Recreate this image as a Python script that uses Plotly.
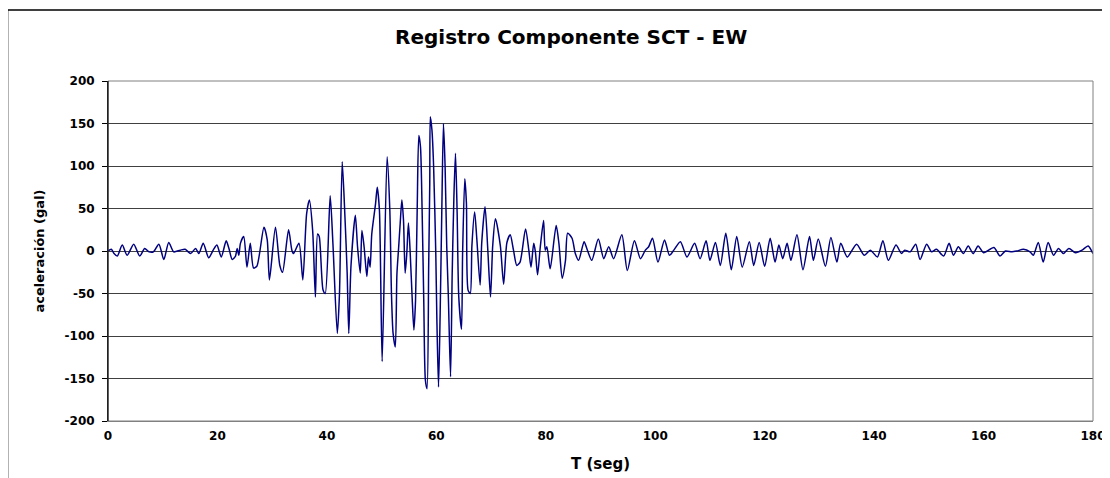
import plotly.graph_objects as go

t_seg = [0.0, 0.6, 1.1, 1.7, 2.6, 3.5, 4.7, 5.8, 6.7, 7.5, 8.3, 9.3, 10.2, 11.1, 12.0, 13.2, 14.1, 15.1, 16.0, 16.6,
         17.4, 18.4, 19.3, 19.9, 20.7, 21.6, 22.1, 22.7, 23.3, 23.6, 23.9, 24.2, 24.8, 25.4, 26.0, 26.6, 27.2, 28.5,
         29.1, 29.5, 30.6, 31.4, 31.9, 33.0, 33.6, 33.9, 34.9, 35.6, 36.3, 36.8, 37.4, 37.9, 38.3, 38.6, 39.3, 39.7,
         40.6, 41.1, 41.9, 42.3, 42.8, 43.3, 43.7, 44.0, 44.4, 45.2, 45.6, 46.1, 46.4, 46.8, 47.3, 47.6, 47.9, 48.2,
         48.9, 49.2, 49.6, 50.1, 51.0, 51.5, 51.8, 52.1, 52.5, 52.8, 53.1, 53.4, 53.7, 54.0, 54.3, 54.6, 54.9, 55.2,
         55.6, 55.9, 56.2, 56.5, 56.8, 57.1, 57.4, 57.7, 58.0, 58.3, 58.6, 58.8, 58.9, 59.2, 59.5, 59.9, 60.1, 60.4,
         60.7, 61.0, 61.3, 61.6, 61.9, 62.2, 62.6, 62.9, 63.2, 63.5, 63.8, 64.1, 64.6, 64.8, 65.2, 65.5, 65.8, 66.2,
         66.5, 67.0, 67.4, 68.0, 68.3, 68.9, 69.4, 69.9, 70.3, 70.8, 71.7, 72.3, 72.9, 73.5, 74.1, 74.7, 75.3, 76.3,
         76.9, 77.3, 77.8, 78.1, 78.5, 79.0, 79.6, 79.9, 80.2, 80.8, 81.9, 82.4, 83.0, 83.6, 84.0, 84.8, 85.4, 86.0,
         87.0, 87.5, 88.4, 89.6, 90.6, 91.5, 92.4, 93.9, 94.9, 96.2, 97.3, 98.2, 98.8, 99.5, 100.5, 101.7, 102.6,
         103.4, 104.6, 105.8, 107.2, 108.2, 109.3, 110.0, 111.0, 111.9, 112.9, 113.9, 114.9, 115.9, 117.2, 118.0,
         119.0, 120.0, 121.0, 121.9, 122.6, 123.3, 124.1, 124.8, 125.9, 127.0, 128.2, 128.9, 129.8, 131.1, 132.1,
         133.2, 133.9, 135.1, 136.8, 138.2, 139.3, 140.6, 141.6, 142.6, 144.0, 145.0, 145.6, 146.6, 147.6, 148.4,
         149.6, 150.5, 151.4, 152.7, 153.7, 154.5, 155.4, 156.3, 157.2, 158.1, 159.0, 160.0, 161.9, 163.0, 164.0,
         165.2, 166.1, 167.3, 168.5, 169.1, 170.0, 170.9, 171.8, 172.8, 173.7, 174.6, 175.6, 176.8, 178.0, 179.1,
         180.0]
acel_gal = [0, 2, -3, -6, 7, -5, 8, -6, 3, -1, -1, 8, -10, 10, -1, 1, 2, -3, 3, -3,
            9, -8, 2, 7, -7, 12, 3, -10, -6, 3, -5, 9, 17, -19, 9, -20, -18, 28,
            13, -34, 28, -17, -25, 25, 1, -3, 9, -34, 44, 60, 24, -54, 20, 17, -46, -50,
            65, 9, -97, -50, 105, 40, -25, -97, -18, 42, 5, -26, 24, 5, -30, -7, -19, 20,
            56, 75, 48, -130, 111, 48, -50, -97, -113, -27, 3, 33, 60, 36, -26, -3, 33, 1,
            -58, -93, -58, 48, 136, 123, 48, -57, -152, -162, -18, 80, 158, 142, 100, -3, -81, -160,
            -73, 48, 150, 100, 6, -54, -148, -26, 61, 115, 45, -54, -92, -3, 85, 56, -46, -50,
            6, 46, 14, -40, 10, 52, 2, -54, 6, 38, 6, -39, 10, 19, 1, -17, -13, 26,
            1, -19, 9, -1, -28, 5, 36, 1, 5, -21, 30, 9, -32, -11, 21, 15, -3, -11,
            11, 3, -11, 14, -9, 5, -9, 19, -23, 12, -9, 1, 5, 15, -13, 13, -5,
            1, 11, -7, 9, -9, 12, -11, 10, -17, 21, -22, 17, -19, 11, -17,
            10, -18, 15, -13, 7, -9, 9, -11, 19, -22, 17, -11, 14, -18, 16,
            -13, 9, -7, 8, -5, 1, -7, 12, -11, 7, -3, 1, -1, 8, -10,
            8, -1, 2, -6, 9, -5, 5, -3, 6, -3, 6, -2, 4, -6, 0,
            -1, 0, 2, -1, -5, 10, -13, 10, -5, 3, -3, 3, -2, 1, 6,
            -3]

y_ticks = [-200, -150, -100, -50, 0, 50, 100, 150, 200]
y_tick_labels = ["-200", "-150", "-100", "-50", "0", "50", "100", "150", "200"]
x_ticks = [0, 20, 40, 60, 80, 100, 120, 140, 160, 180]

FONT = "DejaVu Sans"

fig = go.Figure()
fig.add_trace(go.Scatter(
    x=t_seg, y=acel_gal, mode="lines",
    line=dict(color="#000080", width=1.5, shape="spline", smoothing=0.7),
    hoverinfo="skip", showlegend=False,
))

# the page body adds an 8px offset; work in page pixels and subtract it
OFF = 8
W, H = 1110 - OFF, 478 - OFF
L = 107.5 - OFF
T = 81 - OFF
R = W - (1093 - OFF)
B = H - (420.7 - OFF)
pw, ph = W - L - R, H - T - B

def px_x(px):
    return (px - OFF - L) / pw

def px_y(py):
    return (H - B - (py - OFF)) / ph

fig.update_layout(
    width=W, height=H,
    margin=dict(l=L, r=R, t=T, b=B, autoexpand=False),
    paper_bgcolor="white", plot_bgcolor="white",
    font=dict(family=FONT, color="black"),
    xaxis=dict(
        range=[0, 180], tickvals=x_ticks, showgrid=False, zeroline=False, automargin=False,
        showline=True, linecolor="#808080", linewidth=1,
        ticks="outside", ticklen=4, tickcolor="rgba(0,0,0,0)",
        tickfont=dict(family=FONT, size=12, weight="bold", color="black"),
        title=dict(text="T (seg)", font=dict(family=FONT, size=15, weight="bold", color="black"), standoff=16),
    ),
    yaxis=dict(
        range=[-200, 200], tickvals=y_ticks, ticktext=y_tick_labels,
        showgrid=True, gridcolor="#404040", gridwidth=1,
        zeroline=False, showline=True, linecolor="black", linewidth=1, automargin=False,
        ticks="outside", ticklen=5, tickcolor="black", ticklabelstandoff=5,
        tickfont=dict(family=FONT, size=12, weight="bold", color="black"),
        title=dict(text="aceleración (gal)", font=dict(family=FONT, size=13, weight="bold", color="black"), standoff=17),
    ),
    annotations=[dict(
        text="Registro Componente SCT - EW", xref="paper", yref="paper",
        x=px_x(571), y=px_y(37), xanchor="center", yanchor="middle", showarrow=False,
        font=dict(family=FONT, size=20, weight="bold", color="black"),
    )],
    shapes=[
        dict(type="rect", xref="paper", yref="paper", x0=0, x1=1, y0=0, y1=1,
             line=dict(color="#808080", width=1), layer="above"),
        dict(type="line", xref="paper", yref="paper", x0=0, x1=0, y0=0, y1=1,
             line=dict(color="black", width=1), layer="above"),
        dict(type="rect", xref="paper", yref="paper", x0=px_x(7), x1=px_x(1125), y0=px_y(10), y1=px_y(490),
             line=dict(color="black", width=1.5), layer="below"),
    ],
)

fig.write_html("out.html")
